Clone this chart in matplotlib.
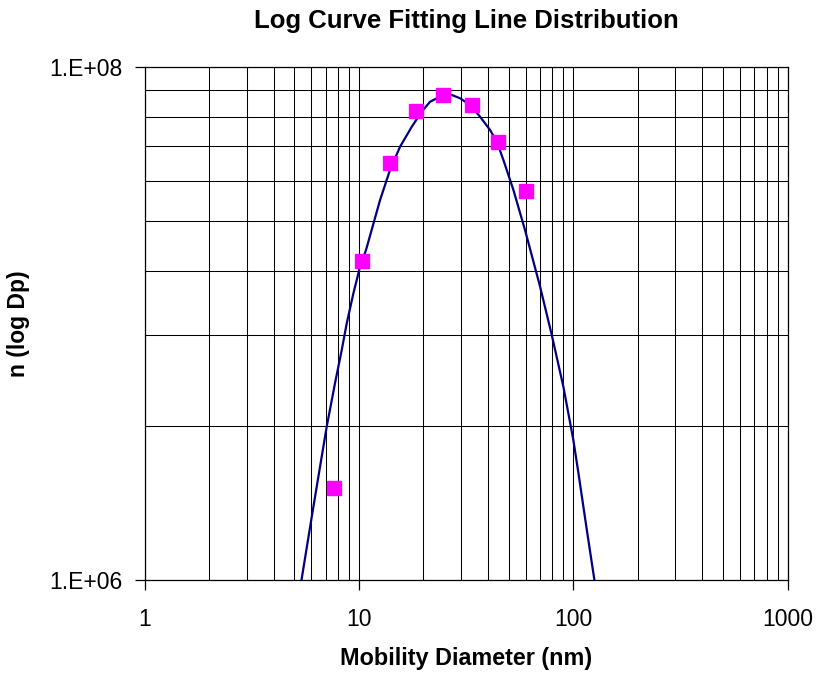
import matplotlib
matplotlib.use("Agg")
import matplotlib.pyplot as plt
from matplotlib.ticker import FixedLocator, NullFormatter

plt.rcParams['font.family'] = ['Liberation Sans', 'DejaVu Sans']

# measured points (mobility diameter in nm, n(log Dp))
dp_pts = [7.66, 10.35, 13.98, 18.49, 24.8, 33.6, 44.5, 60.1]
n_pts = [2.28e6, 1.753e7, 4.22e7, 6.74e7, 7.78e7, 7.11e7, 5.11e7, 3.29e7]

# fitted curve
curve_dp = [5.40, 6.03, 6.59, 7.08, 7.74, 8.32, 8.78, 9.43, 10.13, 10.80,
            12.56, 13.98, 15.57, 17.66, 19.66, 21.49, 23.92, 27.13, 29.67,
            33.03, 36.78, 40.95, 44.01, 47.25, 52.59, 59.65, 70.07, 79.45,
            90.0, 100.2, 105.8, 115.8, 125.6]
curve_n = [1.0e6, 1.765e6, 2.765e6, 3.96e6, 5.85e6, 7.88e6, 1.002e7, 1.311e7,
           1.665e7, 1.934e7, 3.03e7, 3.97e7, 4.89e7, 5.85e7, 6.70e7, 7.32e7,
           7.66e7, 7.78e7, 7.55e7, 7.11e7, 6.40e7, 5.68e7, 5.12e7, 4.34e7,
           3.32e7, 2.31e7, 1.392e7, 9.02e6, 5.67e6, 3.51e6, 2.61e6, 1.566e6,
           1.0e6]

x_major = [1, 10, 100, 1000]
x_labels = ["1", "10", "100", "1000"]
x_minor = [k * 10 ** e for e in range(3) for k in range(2, 10)]
y_major = [1e6, 1e8]
y_labels = ["1.E+06", "1.E+08"]
y_minor = [k ** 2 * 1e6 for k in range(2, 10)]

fig = plt.figure(figsize=(8.17, 6.74), dpi=100)
ax = fig.add_axes([0.1769, 0.1395, 0.787, 0.7611])

ax.set_xscale("log")
ax.set_yscale("log")
ax.set_xlim(1, 1000)
ax.set_ylim(1e6, 1e8)

ax.plot(curve_dp, curve_n, color="#000080", lw=1.6, zorder=3)
ax.plot(dp_pts, n_pts, ls="none", marker="s", ms=9.6, color="#FF00FF",
        mec="#FF00FF", zorder=4)

ax.xaxis.set_major_locator(FixedLocator(x_major))
ax.set_xticklabels(x_labels)
ax.xaxis.set_minor_locator(FixedLocator(x_minor))
ax.xaxis.set_minor_formatter(NullFormatter())
ax.yaxis.set_major_locator(FixedLocator(y_major))
ax.set_yticklabels(y_labels)
ax.yaxis.set_minor_locator(FixedLocator(y_minor))
ax.yaxis.set_minor_formatter(NullFormatter())

ax.grid(True, which="both", color="black", lw=0.75)
ax.tick_params(which="major", direction="out", length=7, width=0.9,
               labelsize=16.5, color="black")
ax.tick_params(axis="x", which="major", pad=13)
ax.tick_params(axis="y", which="major", pad=9)
ax.tick_params(which="minor", length=0)
for s in ax.spines.values():
    s.set_color("black")
    s.set_linewidth(0.9)

ax.set_title("Log Curve Fitting Line Distribution", fontsize=18.5,
             fontweight="bold", pad=28)
ax.set_xlabel("Mobility Diameter (nm)", fontsize=16.8, fontweight="bold",
              labelpad=12)
ax.set_ylabel("n (log Dp)", fontsize=16.5, fontweight="bold", labelpad=14)

fig.savefig("out.png", dpi=100)
